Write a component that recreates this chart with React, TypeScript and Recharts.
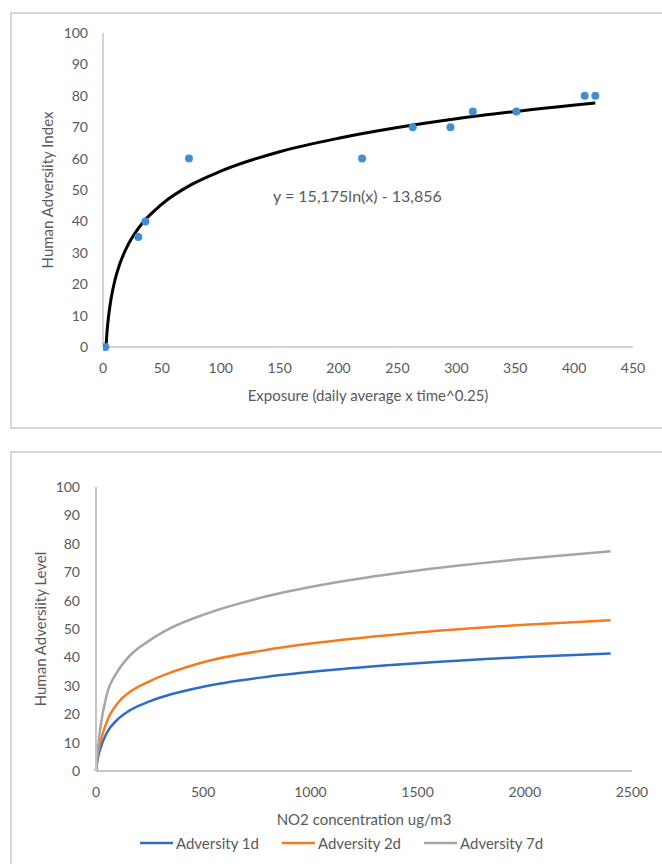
import React from 'react';
import {
  ComposedChart,
  LineChart,
  Line,
  Scatter,
  XAxis,
  YAxis,
  ZAxis,
  ReferenceDot,
  Legend,
} from 'recharts';

// ---------- Top chart data ----------
const obsExposure = [2, 30, 36, 73, 220, 263, 295, 314, 351, 409, 418];
const obsIndex = [0, 35, 40, 60, 60, 70, 70, 75, 75, 80, 80];

// trendline
const trendExposure = [2.5, 3.5, 5, 7, 10, 14, 20, 30, 50, 75, 100, 150, 200, 250, 300, 350, 418];
const trendIndex = [0, 5.2, 10.6, 15.7, 21.1, 26.2, 31.6, 37.8, 45.5, 51.7, 56.0, 62.2, 66.5, 69.9, 72.7, 75.0, 77.7];

const topXTicks = [0, 50, 100, 150, 200, 250, 300, 350, 400, 450];
const yTicks = [0, 10, 20, 30, 40, 50, 60, 70, 80, 90, 100];
const equationText = 'y = 15,175ln(x) - 13,856';
const equationX = 216;
const equationY = 48;

// ---------- Bottom chart data ----------
const concentration = [0, 5, 10, 20, 50, 100, 150, 250, 350, 500, 800, 1150, 1500, 2000, 2400];
const adversity1d = [0, 3.0, 5.0, 7.8, 13.4, 18.1, 21.0, 24.5, 27.0, 29.7, 33.2, 35.9, 37.9, 40.1, 41.4];
const adversity2d = [0, 4.0, 6.5, 10.0, 17.3, 23.8, 27.4, 31.6, 34.7, 38.3, 42.7, 46.2, 48.8, 51.5, 53.1];
const adversity7d = [0, 5.0, 8.5, 15.0, 26.8, 35.0, 40.0, 46.0, 50.4, 55.0, 61.6, 66.8, 70.6, 74.7, 77.4];
const bottomXTicks = [0, 500, 1000, 1500, 2000, 2500];
const seriesNames = ['Adversity 1d', 'Adversity 2d', 'Adversity 7d'];

const observed = obsExposure.map((x, i) => ({ x, y: obsIndex[i] }));
const trend = trendExposure.map((x, i) => ({ x, y: trendIndex[i] }));
const curves = concentration.map((x, i) => ({
  x,
  d1: adversity1d[i],
  d2: adversity2d[i],
  d7: adversity7d[i],
}));

const FONT = 'Lato, "Open Sans", sans-serif';
const TEXT = '#595959';
const AXIS = '#c4c4c4';
const FRAME = '#d6d6d6';

const tickStyle = { fill: TEXT, fontSize: 14, fontFamily: FONT };

const xTitle = (text: string) => (props: any) => {
  const vb = props.viewBox || {};
  return (
    <text
      x={vb.x + vb.width / 2}
      y={vb.y + 48}
      textAnchor="middle"
      dominantBaseline="central"
      fill={TEXT}
      fontSize={15}
      fontFamily={FONT}
    >
      {text}
    </text>
  );
};

const yTitle = (text: string) => (props: any) => {
  const vb = props.viewBox || {};
  const x = vb.x + 4;
  const y = vb.y + vb.height / 2;
  return (
    <text
      x={x}
      y={y}
      transform={`rotate(-90 ${x} ${y})`}
      textAnchor="middle"
      dominantBaseline="central"
      fill={TEXT}
      fontSize={15}
      fontFamily={FONT}
    >
      {text}
    </text>
  );
};

const legendContent = (props: any) => {
  const payload = props.payload || [];
  return (
    <div
      style={{
        display: 'flex',
        justifyContent: 'center',
        alignItems: 'center',
        height: 20,
        paddingLeft: 15,
        fontFamily: FONT,
        fontSize: 15,
        color: TEXT,
      }}
    >
      {payload.map((p: any, i: number) => (
        <div
          key={i}
          style={{ display: 'flex', alignItems: 'center', marginRight: i < payload.length - 1 ? 23 : 0 }}
        >
          <svg width={33} height={4} style={{ marginRight: 3 }}>
            <line x1={0} y1={2} x2={33} y2={2} stroke={p.color} strokeWidth={2.5} />
          </svg>
          <span>{p.value}</span>
        </div>
      ))}
    </div>
  );
};

export default function App() {
  return (
    <div
      style={{
        position: 'absolute',
        left: 0,
        top: 0,
        width: 662,
        height: 864,
        overflow: 'hidden',
        background: '#fff',
      }}
    >
      <div
        style={{
          position: 'absolute',
          left: 10,
          top: 12,
          width: 700,
          height: 413,
          border: `2px solid ${FRAME}`,
        }}
      />
      <div
        style={{
          position: 'absolute',
          left: 10,
          top: 451,
          width: 700,
          height: 500,
          border: `2px solid ${FRAME}`,
        }}
      />

      <div style={{ position: 'absolute', left: 0, top: 0 }}>
        <ComposedChart
          width={662}
          height={430}
          margin={{ top: 33, right: 29, left: 43, bottom: 23 }}
        >
          <XAxis
            type="number"
            dataKey="x"
            domain={[0, 450]}
            ticks={topXTicks}
            allowDataOverflow
            height={60}
            tickLine={false}
            tickSize={0}
            tickMargin={16}
            axisLine={{ stroke: AXIS, strokeWidth: 1.5 }}
            tick={tickStyle}
            label={{ content: xTitle('Exposure (daily average x time^0.25)') }}
          />
          <YAxis
            type="number"
            dataKey="y"
            domain={[0, 100]}
            ticks={yTicks}
            width={60}
            tickLine={false}
            tickSize={0}
            tickMargin={15}
            axisLine={{ stroke: AXIS, strokeWidth: 1.5 }}
            tick={tickStyle}
            label={{ content: yTitle('Human Adversiity Index') }}
          />
          <ZAxis range={[50, 50]} />
          <Line
            data={trend}
            dataKey="y"
            type="monotone"
            stroke="#000"
            strokeWidth={3}
            dot={false}
            activeDot={false}
            isAnimationActive={false}
          />
          <Scatter
            data={observed}
            dataKey="y"
            fill="#3f8fd8"
            isAnimationActive={false}
          />
          <ReferenceDot
            x={equationX}
            y={equationY}
            r={1}
            fill="none"
            stroke="none"
            label={{ value: equationText, position: 'center', fill: TEXT, fontSize: 16, fontFamily: FONT }}
          />
        </ComposedChart>
      </div>

      <div style={{ position: 'absolute', left: 0, top: 440 }}>
        <LineChart
          width={662}
          height={424}
          data={curves}
          margin={{ top: 47, right: 30, left: 36, bottom: 11 }}
        >
          <XAxis
            type="number"
            dataKey="x"
            domain={[0, 2500]}
            ticks={bottomXTicks}
            height={62}
            tickLine={false}
            tickSize={0}
            tickMargin={16}
            axisLine={{ stroke: AXIS, strokeWidth: 2 }}
            tick={tickStyle}
            label={{ content: xTitle('NO2 concentration ug/m3') }}
          />
          <YAxis
            type="number"
            domain={[0, 100]}
            ticks={yTicks}
            width={60}
            tickLine={false}
            tickSize={0}
            tickMargin={16}
            axisLine={{ stroke: AXIS, strokeWidth: 2 }}
            tick={tickStyle}
            label={{ content: yTitle('Human Adversiity Level') }}
          />
          <Line
            dataKey="d1"
            name={seriesNames[0]}
            type="monotone"
            stroke="#2f6cc6"
            strokeWidth={2.5}
            dot={false}
            activeDot={false}
            isAnimationActive={false}
          />
          <Line
            dataKey="d2"
            name={seriesNames[1]}
            type="monotone"
            stroke="#f47b20"
            strokeWidth={2.5}
            dot={false}
            activeDot={false}
            isAnimationActive={false}
          />
          <Line
            dataKey="d7"
            name={seriesNames[2]}
            type="monotone"
            stroke="#a5a5a5"
            strokeWidth={2.5}
            dot={false}
            activeDot={false}
            isAnimationActive={false}
          />
          <Legend verticalAlign="bottom" height={20} content={legendContent} />
        </LineChart>
      </div>
    </div>
  );
}
